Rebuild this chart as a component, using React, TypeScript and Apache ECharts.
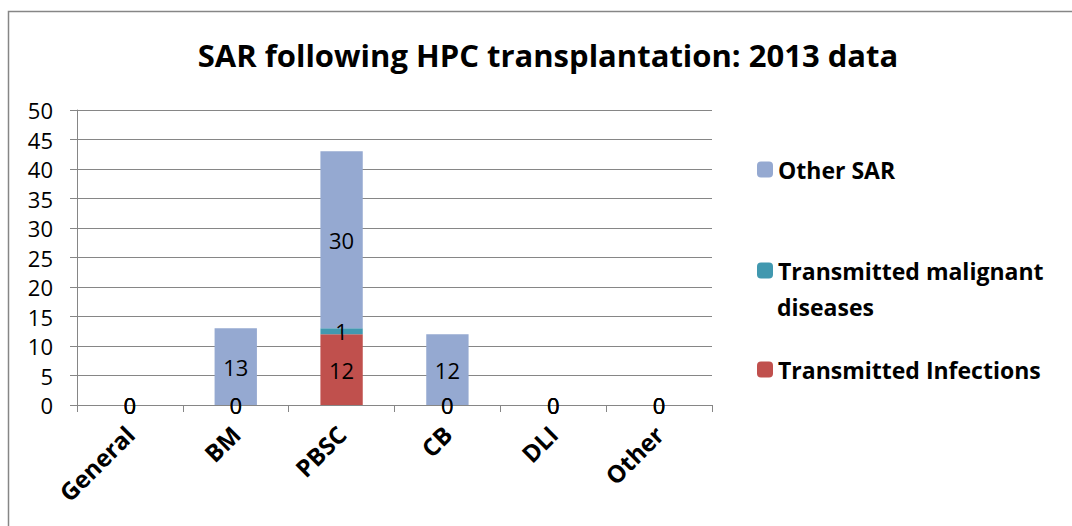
import React, { useEffect, useRef } from "react";
import * as echarts from "echarts";

const categories = ["General", "BM", "PBSC", "CB", "DLI", "Other"];
const transmittedInfections = [0, 0, 12, 0, 0, 0];
const transmittedMalignant = [0, 0, 1, 0, 0, 0];
const otherSAR = [0, 13, 30, 12, 0, 0];
const yTicks = { min: 0, max: 50, interval: 5 };

const FONT = "'Open Sans', 'Noto Sans', sans-serif";
const GREY = "#868686";

export default function App() {
  const ref = useRef<HTMLDivElement>(null);
  useEffect(() => {
    document.body.style.margin = "0";
    if (!ref.current) return;
    const chart = echarts.init(ref.current, undefined, { renderer: "svg" });
    const label = {
      show: true,
      position: "inside",
      color: "#000",
      fontFamily: FONT,
      fontSize: 22,
    };
    const legendText = {
      fontFamily: FONT,
      fontSize: 23,
      fontWeight: "bold",
      color: "#000",
    };
    const legendBase = {
      orient: "vertical",
      left: 752,
      itemWidth: 16,
      itemHeight: 16,
      itemGap: 0,
      textStyle: legendText,
      selectedMode: false,
    };
    chart.setOption({
      animation: false,
      backgroundColor: "#fff",
      title: {
        text: "SAR following HPC transplantation: 2013 data",
        left: 543,
        top: 34,
        textAlign: "center",
        textStyle: { fontFamily: FONT, fontSize: 31, fontWeight: "bold", color: "#000" },
      },
      legend: [
        { ...legendBase, top: 153, data: ["Other SAR"] },
        { ...legendBase, top: 254, data: ["Transmitted malignant"] },
        { ...legendBase, top: 353, data: ["Transmitted Infections"] },
      ],
      graphic: [
        {
          type: "rect",
          shape: { x: 8.5, y: 11.5, width: 1200, height: 600 },
          style: { fill: "none", stroke: GREY, lineWidth: 1.5 },
          silent: true,
        },
        {
          type: "text",
          x: 777,
          y: 307,
          style: {
            text: "diseases",
            font: `bold 23px ${FONT}`,
            fill: "#000",
            verticalAlign: "middle",
          },
        },
      ],
      grid: { left: 77, right: 360, top: 110, bottom: 121 },
      xAxis: {
        type: "category",
        data: categories,
        boundaryGap: true,
        axisLine: { lineStyle: { color: GREY, width: 1 } },
        axisTick: { show: true, length: 7, lineStyle: { color: GREY } },
        axisLabel: {
          rotate: 45,
          margin: 25,
          color: "#000",
          fontFamily: FONT,
          fontSize: 24,
          fontWeight: "bold",
          interval: 0,
        },
      },
      yAxis: {
        type: "value",
        min: yTicks.min,
        max: yTicks.max,
        interval: yTicks.interval,
        axisLine: { show: true, lineStyle: { color: GREY, width: 1 } },
        axisTick: { show: true, length: 7, lineStyle: { color: GREY } },
        splitLine: { lineStyle: { color: GREY, width: 1 } },
        axisLabel: { color: "#000", fontFamily: FONT, fontSize: 22, margin: 24 },
      },
      series: [
        {
          name: "Transmitted Infections",
          type: "bar",
          stack: "sar",
          barWidth: "40%",
          data: transmittedInfections,
          itemStyle: { color: "#C0504D" },
          label,
        },
        {
          name: "Transmitted malignant",
          type: "bar",
          stack: "sar",
          barWidth: "40%",
          data: transmittedMalignant,
          itemStyle: { color: "#4198AF" },
          label,
        },
        {
          name: "Other SAR",
          type: "bar",
          stack: "sar",
          barWidth: "40%",
          data: otherSAR,
          itemStyle: { color: "#95A9D1" },
          label,
        },
      ],
    });
    return () => chart.dispose();
  }, []);
  return <div ref={ref} style={{ width: 1072, height: 526 }} />;
}
